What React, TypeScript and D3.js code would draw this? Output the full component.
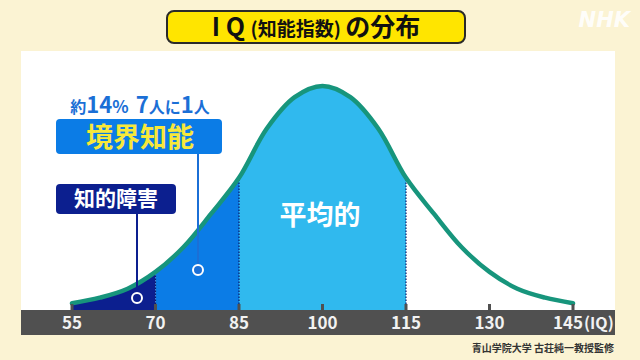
import React from "react";
import * as d3 from "d3";

// IQ values and relative frequency (peak = 100)
const iqValues = [55, 60, 65, 70, 75, 80, 85, 90, 95, 100, 105, 110, 115, 120, 125, 130, 135, 140, 145];
const relFreq = [3, 5.5, 9.5, 17, 28, 43, 59, 81, 95, 100, 95, 81, 59, 43, 28, 17, 9.5, 5.5, 3];
const tickValues = [55, 70, 85, 100, 115, 130];
const lastTick = 145;
const bands = [
  { from: 55, to: 70, color: "#0c1f8f" },
  { from: 70, to: 85, color: "#0b7ce6" },
  { from: 85, to: 115, color: "#30b9ee" },
];
const dividers = [70, 85, 115];

const W = 640;
const H = 360;
const FONT = "'Noto Sans CJK JP', 'Noto Sans', sans-serif";

export default function App() {
  const x = d3.scaleLinear().domain([55, 145]).range([72, 573]);
  const y = d3.scaleLinear().domain([0, 100]).range([310, 86]);
  const pts: [number, number][] = iqValues.map((v, i) => [v, relFreq[i]]);
  const curveFn = d3.curveCatmullRom;

  const line = d3
    .line<[number, number]>()
    .x((d) => x(d[0]))
    .y((d) => y(d[1]))
    .curve(curveFn);
  const pathStr = line(pts) || "";

  const area = d3
    .area<[number, number]>()
    .x((d) => x(d[0]))
    .y0(310)
    .y1((d) => y(d[1]))
    .curve(curveFn);
  const areaStr = area(pts) || "";

  const heightAt = (v: number) => {
    const i = d3.bisectLeft(iqValues, v);
    if (iqValues[i] === v) return y(relFreq[i]);
    const a = i - 1;
    const t = (v - iqValues[a]) / (iqValues[i] - iqValues[a]);
    return y(relFreq[a] + (relFreq[i] - relFreq[a]) * t);
  };

  return (
    <svg
      width={W}
      height={H}
      style={{ position: "absolute", left: 0, top: 0, display: "block" }}
      fontFamily={FONT}
    >
      <defs>
        <clipPath id="areaClip">
          <path d={areaStr} />
        </clipPath>
      </defs>
      <rect x={0} y={0} width={W} height={H} fill="#fbf3d3" />
      <rect x={21} y={51} width={594} height={259} fill="#ffffff" />

      {/* title */}
      <rect x={167} y={11} width={298} height={32} rx={7} fill="#ffe500" stroke="#2a2a2a" strokeWidth={2} />
      <text x={316} y={36} textAnchor="middle" fontWeight={700} fill="#111">
        <tspan fontSize={25}>I Q </tspan>
        <tspan fontSize={19}>(知能指数) </tspan>
        <tspan fontSize={25}>の分布</tspan>
      </text>

      {/* NHK logo */}
      <text x={630} y={27} textAnchor="end" fontSize={21} fontWeight={700} fontStyle="italic" fill="#ffffff" fillOpacity={0.9} fontFamily="'DejaVu Sans', sans-serif">
        NHK
      </text>

      {/* bands */}
      <g clipPath="url(#areaClip)">
        {bands.map((b) => (
          <rect key={b.from} x={x(b.from)} y={50} width={x(b.to) - x(b.from)} height={260} fill={b.color} />
        ))}
      </g>
      {dividers.map((v) => (
        <line key={v} x1={x(v)} x2={x(v)} y1={310} y2={heightAt(v) + 2} stroke="#0a1a6a" strokeWidth={1.2} strokeDasharray="1.5,1.5" />
      ))}

      {/* curve */}
      <path d={pathStr} fill="none" stroke="#17957c" strokeWidth={4.5} strokeLinecap="round" />

      {/* 平均的 */}
      <text x={320} y={225} textAnchor="middle" fontSize={27} fontWeight={700} fill="#ffffff">
        平均的
      </text>

      {/* 境界知能 */}
      <text x={140} y={113} textAnchor="middle" fontWeight={700} fill="#1b6fd6">
        <tspan fontSize={16}>約</tspan>
        <tspan fontSize={22}>14</tspan>
        <tspan fontSize={17}>%</tspan>
        <tspan fontSize={22} dx={7}>7</tspan>
        <tspan fontSize={16}>人に</tspan>
        <tspan fontSize={22}>1</tspan>
        <tspan fontSize={16}>人</tspan>
      </text>
      <line x1={198} x2={198} y1={154} y2={266} stroke="#1b6fd6" strokeWidth={2} />
      <circle cx={198} cy={270} r={5} fill="#1b6fd6" stroke="#ffffff" strokeWidth={2} />
      <rect x={56} y={119} width={166} height={35} rx={4} fill="#0b7ce6" />
      <text x={140} y={147} textAnchor="middle" fontSize={27} fontWeight={700} fill="#f7e83a">
        境界知能
      </text>

      {/* 知的障害 */}
      <line x1={137} x2={137} y1={213} y2={294} stroke="#0c1f8f" strokeWidth={2} />
      <circle cx={137} cy={298} r={5} fill="#0c1f8f" stroke="#ffffff" strokeWidth={2} />
      <rect x={56} y={184} width={120} height={30} rx={4} fill="#0c1f8f" />
      <text x={116} y={206} textAnchor="middle" fontSize={21} fontWeight={700} fill="#ffffff">
        知的障害
      </text>

      {/* axis bar */}
      <rect x={21} y={310} width={594} height={25} fill="#505050" />
      {[...tickValues, lastTick].map((v) => (
        <rect key={"t" + v} x={x(v) - 1.5} y={304} width={3} height={7} fill="#505050" />
      ))}
      {tickValues.map((v) => (
        <text key={v} x={x(v)} y={329} textAnchor="middle" fontSize={17} fontWeight={700} fill="#f2f2f2">
          {v}
        </text>
      ))}
      <text x={583} y={329} textAnchor="end" fontSize={17} fontWeight={700} fill="#f2f2f2">
        {lastTick}
      </text>
      <text x={584} y={329} fontSize={16} fontWeight={700} fill="#f2f2f2">
        (IQ)
      </text>

      {/* credit */}
      <text x={614} y={352} textAnchor="end" fontSize={10} fontWeight={700} fill="#333">
        青山学院大学 古荘純一教授監修
      </text>
    </svg>
  );
}
